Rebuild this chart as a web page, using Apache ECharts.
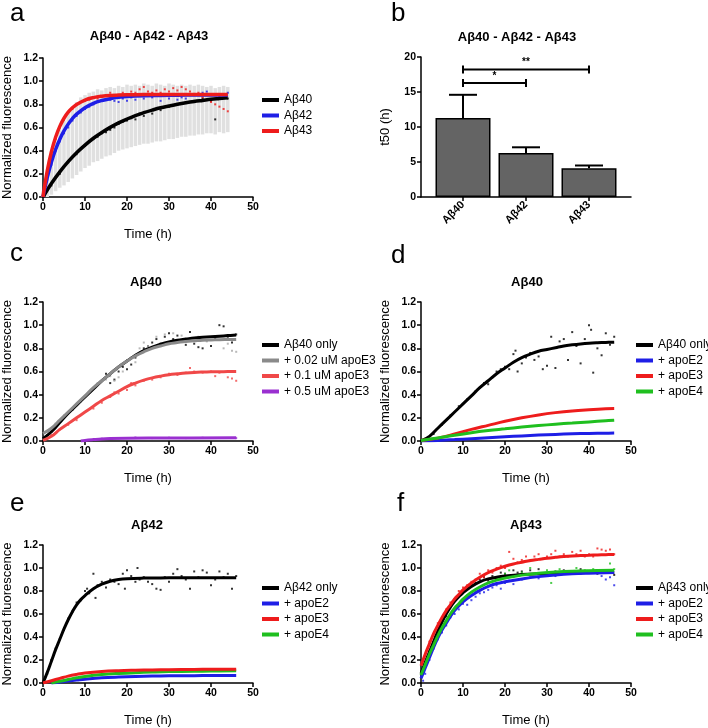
<!DOCTYPE html>
<html>
<head>
<meta charset="utf-8">
<title>Abeta aggregation</title>
<script src="https://cdn.jsdelivr.net/npm/echarts@6/dist/echarts.min.js"></script>
<style>
  html, body { margin: 0; padding: 0; background: #fff; }
  #main { width: 708px; height: 728px; }
</style>
</head>
<body>
<div id="main"></div>
<script>
// ---- data ----
// panel a : fits, points, grey error bars [t, low, high]
var aFit40 = [[0,0],[2,0.116],[4,0.217],[6,0.305],[8,0.382],[10,0.448],[12,0.507],[14,0.557],[16,0.601],[18,0.640],[20,0.673],[22,0.703],[24,0.728],[26,0.750],[28,0.770],[30,0.786],[32,0.801],[34,0.814],[36,0.825],[38,0.834],[40,0.843],[42,0.850],[44,0.857]];
var aFit42 = [[0,0],[1,0.166],[2,0.301],[3,0.41],[4,0.499],[5,0.57],[6,0.629],[7,0.677],[8,0.715],[10,0.771],[12,0.809],[14,0.833],[16,0.849],[18,0.86],[20,0.867],[24,0.874],[28,0.877],[32,0.879],[36,0.88],[40,0.88],[44,0.88]];
var aFit43 = [[0,0],[1,0.224],[2,0.391],[3,0.516],[4,0.61],[5,0.68],[6,0.732],[7,0.77],[8,0.799],[10,0.837],[12,0.858],[14,0.87],[16,0.877],[18,0.88],[20,0.882],[24,0.884],[28,0.885],[32,0.885],[36,0.885],[40,0.885],[44,0.885]];
var aPts40 = [[2,0.1],[4,0.2],[6,0.3],[8,0.37],[10,0.44],[12,0.5],[13,0.52],[14,0.55],[15,0.56],[16,0.58],[17,0.6],[18,0.63],[19,0.65],[20,0.66],[21,0.68],[22,0.67],[23,0.72],[24,0.7],[25,0.74],[26,0.72],[28,0.75],[30,0.78],[32,0.8],[34,0.82],[36,0.83],[38,0.85],[40,0.83],[41,0.67],[42,0.86],[44,0.85]];
var aPts42 = [[1,0.15],[2,0.28],[3,0.4],[4,0.48],[5,0.55],[6,0.6],[7,0.66],[8,0.7],[9,0.73],[10,0.76],[11,0.78],[12,0.8],[13,0.82],[14,0.83],[15,0.84],[16,0.84],[17,0.83],[18,0.82],[19,0.85],[20,0.83],[21,0.86],[22,0.84],[24,0.85],[26,0.86],[28,0.83],[30,0.85],[32,0.84],[33,0.86],[34,0.85],[36,0.88],[38,0.9],[39,0.91],[40,0.89],[42,0.88],[44,0.9]];
var aPts43 = [[1,0.2],[2,0.38],[3,0.5],[4,0.6],[5,0.67],[6,0.73],[7,0.76],[8,0.8],[9,0.82],[10,0.83],[11,0.84],[12,0.86],[13,0.85],[14,0.87],[15,0.88],[16,0.9],[17,0.88],[18,0.87],[19,0.9],[20,0.89],[21,0.91],[22,0.9],[23,0.93],[24,0.95],[25,0.91],[26,0.9],[27,0.92],[28,0.9],[29,0.93],[30,0.91],[31,0.94],[32,0.92],[33,0.95],[34,0.93],[35,0.91],[36,0.89],[37,0.9],[38,0.86],[39,0.84],[40,0.82],[41,0.8],[42,0.78],[43,0.76],[44,0.74]];
var aErr = [[0,0,0.05],[1,0,0.2],[2,0.02,0.35],[3,0.05,0.48],[4,0.08,0.58],[5,0.1,0.66],[6,0.13,0.72],[7,0.16,0.78],[8,0.19,0.82],[9,0.22,0.86],[10,0.25,0.88],[11,0.27,0.9],[12,0.3,0.91],[13,0.31,0.93],[14,0.33,0.92],[15,0.35,0.94],[16,0.36,0.95],[17,0.38,0.94],[18,0.4,0.96],[19,0.41,0.95],[20,0.42,0.97],[21,0.43,0.96],[22,0.44,0.97],[23,0.45,0.96],[24,0.46,0.98],[25,0.46,0.97],[26,0.47,0.96],[27,0.48,0.98],[28,0.48,0.97],[29,0.49,0.96],[30,0.5,0.98],[31,0.5,0.97],[32,0.51,0.96],[33,0.52,0.97],[34,0.52,0.96],[35,0.53,0.97],[36,0.53,0.96],[37,0.54,0.97],[38,0.54,0.96],[39,0.55,0.95],[40,0.55,0.96],[41,0.54,0.94],[42,0.56,0.95],[43,0.55,0.96],[44,0.56,0.95]];

// panel b : t50 bars
var bCats = ['Aβ40', 'Aβ42', 'Aβ43'];
var bT50 = [11.3, 6.3, 4.1];
var bT50Hi = [14.6, 7.1, 4.5];
var bSig = [[0, 2, 18.2], [0, 1, 16.3]];
var bSigText = ['**', '*'];

// panel c : Abeta40 + apoE3 doses
var cFitOnly = [[0,0.02],[2,0.08],[4,0.16],[6,0.24],[8,0.31],[10,0.38],[12,0.45],[14,0.52],[16,0.58],[18,0.64],[20,0.69],[22,0.74],[24,0.78],[26,0.81],[28,0.835],[30,0.855],[32,0.87],[34,0.88],[36,0.89],[38,0.895],[40,0.9],[42,0.905],[44,0.91],[46,0.915]];
var cFit002 = [[0,0.065],[2,0.11],[4,0.18],[6,0.25],[8,0.32],[10,0.39],[12,0.46],[14,0.52],[16,0.58],[18,0.64],[20,0.69],[22,0.735],[24,0.77],[26,0.8],[28,0.82],[30,0.84],[32,0.85],[34,0.86],[36,0.865],[38,0.87],[40,0.872],[42,0.875],[44,0.876],[46,0.877]];
var cFit01 = [[0,0.005],[2,0.04],[4,0.1],[6,0.15],[8,0.2],[10,0.25],[12,0.3],[14,0.35],[16,0.39],[18,0.43],[20,0.47],[22,0.5],[24,0.525],[26,0.545],[28,0.56],[30,0.572],[32,0.58],[34,0.587],[36,0.592],[38,0.595],[40,0.597],[42,0.598],[44,0.599],[46,0.6]];
var cFit05 = [[9,0],[10,0.005],[12,0.012],[14,0.018],[16,0.021],[20,0.024],[30,0.026],[46,0.027]];
var cPtsOnly = [[1,0.05],[2,0.08],[3,0.12],[5,0.2],[7,0.27],[9,0.35],[11,0.42],[13,0.49],[14,0.52],[15,0.58],[16,0.5],[17,0.53],[18,0.6],[19,0.64],[20,0.62],[21,0.66],[22,0.72],[23,0.76],[24,0.8],[25,0.82],[26,0.85],[27,0.88],[28,0.84],[29,0.9],[30,0.93],[31,0.88],[32,0.91],[33,0.86],[34,0.83],[35,0.94],[36,0.84],[37,0.81],[38,0.8],[39,0.87],[40,0.82],[41,0.88],[42,1.0],[43,0.99],[44,0.9],[45,0.85],[46,0.92]];
var cPts002 = [[1,0.08],[3,0.15],[5,0.22],[7,0.28],[9,0.34],[11,0.42],[13,0.5],[15,0.53],[16,0.56],[17,0.52],[18,0.55],[19,0.6],[20,0.7],[21,0.72],[22,0.68],[23,0.8],[24,0.85],[25,0.82],[27,0.9],[29,0.92],[31,0.93],[33,0.91],[35,0.87],[37,0.9],[39,0.86],[41,0.9],[43,0.8],[44,0.84],[45,0.78],[46,0.77]];
var cPts01 = [[2,0.05],[4,0.1],[6,0.14],[8,0.18],[10,0.25],[12,0.28],[14,0.33],[16,0.38],[17,0.42],[18,0.41],[20,0.44],[21,0.5],[22,0.48],[24,0.52],[26,0.53],[28,0.55],[30,0.58],[32,0.57],[34,0.59],[35,0.63],[36,0.6],[38,0.59],[40,0.6],[41,0.56],[42,0.59],[44,0.55],[45,0.54],[46,0.52]];
var cPts05 = [[10,0.005],[14,0.02],[18,0.025],[22,0.03],[26,0.025],[30,0.028],[34,0.025],[38,0.028],[42,0.026],[46,0.025]];

// panel d : Abeta40 + apoE isoforms
var dFitOnly = [[0,0],[2,0.04],[4,0.11],[6,0.18],[8,0.25],[10,0.32],[12,0.39],[14,0.46],[16,0.52],[18,0.58],[20,0.63],[22,0.68],[24,0.72],[26,0.75],[28,0.775],[30,0.79],[32,0.805],[34,0.82],[36,0.83],[38,0.838],[40,0.844],[42,0.848],[44,0.851],[46,0.853]];
var dFitE2 = [[0,0],[4,0.005],[8,0.012],[12,0.02],[16,0.028],[20,0.036],[24,0.044],[28,0.051],[32,0.057],[36,0.062],[40,0.065],[44,0.067],[46,0.068]];
var dFitE3 = [[0,0.005],[4,0.025],[8,0.06],[12,0.1],[16,0.135],[20,0.17],[24,0.2],[28,0.225],[32,0.245],[36,0.26],[40,0.27],[44,0.278],[46,0.28]];
var dFitE4 = [[0,0.005],[4,0.025],[8,0.05],[12,0.072],[16,0.09],[20,0.105],[24,0.12],[28,0.133],[32,0.145],[36,0.155],[40,0.165],[44,0.175],[46,0.18]];
var dPtsOnly = [[1,0.01],[3,0.06],[5,0.14],[7,0.22],[9,0.3],[11,0.36],[13,0.43],[14,0.46],[15,0.5],[16,0.49],[17,0.55],[18,0.6],[19,0.62],[20,0.64],[21,0.62],[22,0.75],[22.5,0.78],[23,0.6],[24,0.67],[25,0.72],[26,0.76],[27,0.7],[28,0.73],[29,0.62],[30,0.65],[31,0.9],[32,0.63],[33,0.86],[34,0.88],[35,0.7],[36,0.94],[37,0.82],[38,0.67],[39,0.88],[40,1.0],[40.5,0.96],[41,0.59],[42,0.8],[43,0.74],[44,0.93],[45,0.83],[46,0.9]];

// panel e : Abeta42 + apoE isoforms
var eFitOnly = [[0,0],[1,0.09],[2,0.19],[3,0.29],[4,0.38],[5,0.47],[6,0.55],[7,0.62],[8,0.68],[9,0.725],[10,0.76],[12,0.82],[14,0.86],[16,0.885],[18,0.9],[20,0.907],[24,0.912],[28,0.914],[32,0.915],[36,0.915],[40,0.915],[46,0.915]];
var eFitE2 = [[2,0],[4,0.008],[6,0.017],[8,0.025],[10,0.033],[14,0.045],[18,0.052],[22,0.057],[26,0.06],[30,0.062],[36,0.064],[40,0.065],[46,0.066]];
var eFitE3 = [[0,0],[2,0.02],[4,0.04],[6,0.06],[8,0.075],[10,0.087],[14,0.1],[18,0.107],[22,0.111],[26,0.114],[30,0.116],[36,0.118],[40,0.119],[46,0.12]];
var eFitE4 = [[2,0],[4,0.015],[6,0.03],[8,0.045],[10,0.057],[14,0.073],[18,0.083],[22,0.09],[26,0.095],[30,0.099],[36,0.102],[40,0.104],[46,0.106]];
var ePtsOnly = [[1,0.08],[2,0.2],[3,0.3],[4,0.38],[5,0.46],[6,0.56],[7,0.62],[8,0.7],[9,0.72],[10,0.8],[10.5,0.82],[11,0.78],[12,0.95],[12.5,0.74],[13,0.85],[14,0.88],[15,0.83],[16,0.9],[17,0.88],[18,0.86],[19,0.95],[19.5,0.82],[20,0.98],[21,0.93],[22,0.88],[22.5,1.0],[23,0.9],[24,0.92],[25,0.88],[26,0.86],[27,0.82],[28,0.81],[29,0.92],[30,0.88],[31,0.95],[32,0.99],[33,0.93],[34,0.9],[35,0.82],[36,0.97],[37,0.92],[38,0.98],[39,0.96],[40,0.85],[41,0.9],[42,0.97],[43,0.92],[44,0.95],[45,0.82],[46,0.93]];

// panel f : Abeta43 + apoE isoforms
var fFitOnly = [[0,0.08],[1,0.18],[2,0.27],[3,0.36],[4,0.45],[5,0.53],[6,0.6],[7,0.66],[8,0.71],[9,0.75],[10,0.785],[12,0.84],[14,0.88],[16,0.905],[18,0.92],[20,0.93],[24,0.943],[28,0.95],[32,0.955],[36,0.958],[40,0.96],[46,0.96]];
var fFitE2 = [[0,0.04],[1,0.13],[2,0.22],[3,0.31],[4,0.39],[5,0.46],[6,0.52],[7,0.58],[8,0.63],[9,0.67],[10,0.705],[12,0.76],[14,0.805],[16,0.84],[18,0.865],[20,0.88],[24,0.905],[28,0.925],[32,0.94],[36,0.95],[40,0.955],[46,0.96]];
var fFitE3 = [[0,0.15],[1,0.25],[2,0.34],[3,0.43],[4,0.5],[5,0.57],[6,0.63],[7,0.68],[8,0.73],[9,0.77],[10,0.81],[12,0.87],[14,0.92],[16,0.96],[18,0.99],[20,1.015],[22,1.035],[24,1.05],[26,1.065],[28,1.075],[30,1.085],[32,1.093],[34,1.1],[36,1.105],[38,1.108],[40,1.111],[42,1.114],[44,1.116],[46,1.117]];
var fFitE4 = [[0,0.07],[1,0.16],[2,0.25],[3,0.33],[4,0.41],[5,0.48],[6,0.54],[7,0.6],[8,0.65],[9,0.69],[10,0.73],[12,0.79],[14,0.835],[16,0.87],[18,0.895],[20,0.912],[24,0.938],[28,0.955],[32,0.965],[36,0.972],[40,0.976],[46,0.98]];
var fPtsOnly = [[1,0.16],[2,0.28],[3,0.35],[4,0.46],[5,0.52],[6,0.58],[7,0.67],[8,0.72],[9,0.76],[10,0.8],[11,0.83],[12,0.85],[13,0.87],[14,0.9],[15,0.92],[16,0.89],[17,0.93],[18,0.91],[19,0.96],[20,0.95],[21,0.93],[22,0.98],[23,0.96],[24,0.97],[25,0.94],[26,0.98],[28,0.99],[30,0.95],[32,0.97],[34,0.98],[36,0.96],[38,0.99],[40,0.97],[42,0.95],[44,0.96],[46,0.94]];
var fPtsE2 = [[0.5,0.02],[1,0.08],[2,0.2],[3,0.3],[4,0.38],[5,0.44],[6,0.5],[7,0.57],[8,0.6],[9,0.64],[10,0.69],[11,0.68],[12,0.72],[13,0.75],[14,0.78],[15,0.79],[16,0.81],[17,0.83],[18,0.85],[19,0.82],[20,0.87],[21,0.89],[22,0.86],[24,0.9],[26,0.92],[28,0.91],[30,0.94],[32,0.93],[34,0.95],[36,0.96],[38,0.95],[40,0.96],[42,0.98],[43,0.93],[44,0.9],[45,0.92],[46,0.85]];
var fPtsE3 = [[1,0.25],[2,0.36],[3,0.42],[4,0.52],[5,0.55],[6,0.64],[7,0.7],[8,0.73],[9,0.8],[10,0.83],[11,0.85],[12,0.88],[13,0.9],[14,0.95],[15,0.92],[16,0.98],[17,0.96],[18,1.0],[19,1.02],[20,1.0],[21,1.14],[22,1.08],[23,1.05],[24,1.07],[25,1.1],[26,1.06],[27,1.1],[28,1.12],[29,1.08],[30,1.1],[31,1.12],[32,1.15],[33,1.1],[34,1.12],[35,1.1],[36,1.14],[37,1.12],[38,1.15],[39,1.1],[40,1.12],[41,1.1],[42,1.17],[43,1.16],[44,1.15],[45,1.16],[46,1.12]];
var fPtsE4 = [[1,0.14],[3,0.33],[5,0.47],[7,0.58],[9,0.68],[11,0.76],[13,0.8],[15,0.85],[17,0.88],[19,0.9],[20,0.95],[21,0.98],[22,0.92],[24,0.96],[26,1.0],[28,0.95],[30,0.98],[31,0.87],[33,0.99],[35,0.96],[37,1.0],[39,0.98],[41,0.99],[43,0.97],[45,1.04],[46,0.99]];

// ---- styling ----
var FONT = '"Liberation Sans", Arial, sans-serif';
var BLACK = '#000000', BLUE = '#1e1ee6', RED = '#ee1c1c', GREEN = '#1fbf1f',
    GREY = '#8a8a8a', LRED = '#f04848', PURPLE = '#9a30d0';

var chart = echarts.init(document.getElementById('main'), null, { renderer: 'canvas' });

var axisLineStyle = { show: true, onZero: false, lineStyle: { color: '#000', width: 1.5 } };
var tickStyle = { show: true, length: 4, lineStyle: { color: '#000', width: 1.5 } };
var tickLabel = { fontSize: 10.5, fontWeight: 'bold', color: '#000', fontFamily: FONT };

function timeAxis(g) {
  return {
    type: 'value', gridIndex: g, min: 0, max: 50, interval: 10,
    name: 'Time (h)', nameLocation: 'middle', nameGap: 31,
    nameTextStyle: { fontSize: 13, color: '#000', fontFamily: FONT },
    axisLine: axisLineStyle, axisTick: tickStyle,
    axisLabel: Object.assign({ margin: 5 }, tickLabel),
    splitLine: { show: false }
  };
}
function fluoAxis(g) {
  return {
    type: 'value', gridIndex: g, min: 0, max: 1.2, interval: 0.2,
    name: 'Normalized fluorescence', nameLocation: 'middle', nameGap: 29,
    nameTextStyle: { fontSize: 13, color: '#000', fontFamily: FONT },
    axisLine: axisLineStyle, axisTick: tickStyle,
    axisLabel: Object.assign({ margin: 5, formatter: function (v) { return v.toFixed(1); } }, tickLabel),
    splitLine: { show: false }
  };
}
function fit(ax, name, data, color, w) {
  return {
    type: 'line', name: name, xAxisIndex: ax, yAxisIndex: ax, data: data,
    smooth: 0.4, symbol: 'none', showSymbol: false, z: 4,
    lineStyle: { color: color, width: w || 3 }, itemStyle: { color: color }
  };
}
function dots(ax, data, color) {
  return {
    type: 'scatter', xAxisIndex: ax, yAxisIndex: ax, data: data,
    symbol: 'rect', symbolSize: 2, itemStyle: { color: color }, z: 3, silent: true
  };
}
function legend(x, y, names) {
  return {
    orient: 'vertical', left: x, top: y, data: names, icon: 'rect',
    itemWidth: 17, itemHeight: 4, itemGap: 3.5, selectedMode: false,
    textStyle: { fontSize: 12, lineHeight: 12, color: '#000', fontFamily: FONT }
  };
}
// text centred vertically on y
function txt(x, y, s, size, bold, align) {
  return {
    type: 'text', x: x, y: y, silent: true,
    style: {
      text: s, fill: '#000', textAlign: align || 'center', textVerticalAlign: 'middle',
      font: (bold ? 'bold ' : '') + size + 'px ' + FONT
    }
  };
}

// grey error bars of panel a
function errRender(params, api) {
  var lo = api.coord([api.value(0), api.value(1)]);
  var hi = api.coord([api.value(0), api.value(2)]);
  return { type: 'line', shape: { x1: lo[0], y1: lo[1], x2: hi[0], y2: hi[1] },
           style: { stroke: '#e0e0e0', lineWidth: 3.5 } };
}
// error bars on bars of panel b
function barErrRender(params, api) {
  var top = api.coord([api.value(0), api.value(1)]);
  var hi = api.coord([api.value(0), api.value(2)]);
  return { type: 'group', children: [
    { type: 'line', shape: { x1: top[0], y1: top[1], x2: hi[0], y2: hi[1] }, style: { stroke: '#000', lineWidth: 2 } },
    { type: 'line', shape: { x1: hi[0] - 14, y1: hi[1], x2: hi[0] + 14, y2: hi[1] }, style: { stroke: '#000', lineWidth: 2 } }
  ] };
}
// significance brackets of panel b
function sigRender(params, api) {
  var p1 = api.coord([api.value(0), api.value(2)]);
  var p2 = api.coord([api.value(1), api.value(2)]);
  var st = { stroke: '#000', lineWidth: 2 };
  return { type: 'group', children: [
    { type: 'line', shape: { x1: p1[0], y1: p1[1], x2: p2[0], y2: p2[1] }, style: st },
    { type: 'line', shape: { x1: p1[0], y1: p1[1] - 4, x2: p1[0], y2: p1[1] + 4 }, style: st },
    { type: 'line', shape: { x1: p2[0], y1: p2[1] - 4, x2: p2[0], y2: p2[1] + 4 }, style: st },
    { type: 'text', style: { text: bSigText[params.dataIndex], x: (p1[0] + p2[0]) / 2, y: p1[1] - 2,
      textAlign: 'center', textVerticalAlign: 'bottom', font: 'bold 10px ' + FONT, fill: '#000' } }
  ] };
}

var option = {
  animation: false,
  backgroundColor: '#fff',
  grid: [
    { left: 43, top: 58, width: 210, height: 139 },      // a
    { left: 421, top: 57, width: 210, height: 140 },     // b frame
    { left: 431.5, top: 57, width: 189, height: 140 },   // b bars
    { left: 43, top: 302, width: 210, height: 139 },     // c
    { left: 421, top: 302, width: 210, height: 139 },    // d
    { left: 43, top: 545, width: 210, height: 139 },     // e
    { left: 421, top: 545, width: 210, height: 139 }     // f
  ],
  xAxis: [
    timeAxis(0),
    { type: 'value', gridIndex: 1, min: 0, max: 1, axisLine: axisLineStyle,
      axisTick: { show: false }, axisLabel: { show: false }, splitLine: { show: false } },
    { type: 'category', gridIndex: 2, data: bCats, axisLine: { show: false },
      axisTick: { show: true, alignWithLabel: true, length: 4, lineStyle: { color: '#000', width: 1.5 } },
      axisLabel: { rotate: 45, margin: 6, fontSize: 11, fontWeight: 'bold', color: '#000', fontFamily: FONT } },
    timeAxis(3), timeAxis(4), timeAxis(5), timeAxis(6)
  ],
  yAxis: [
    fluoAxis(0),
    { type: 'value', gridIndex: 1, min: 0, max: 20, interval: 5,
      name: 't50 (h)', nameLocation: 'middle', nameGap: 29,
      nameTextStyle: { fontSize: 13, color: '#000', fontFamily: FONT },
      axisLine: axisLineStyle, axisTick: tickStyle,
      axisLabel: Object.assign({ margin: 5 }, tickLabel), splitLine: { show: false } },
    { type: 'value', gridIndex: 2, min: 0, max: 20, show: false },
    fluoAxis(3), fluoAxis(4), fluoAxis(5), fluoAxis(6)
  ],
  legend: [
    legend(257, 89, ['Aβ40', 'Aβ42', 'Aβ43']),
    legend(257, 334, ['Aβ40 only', '+ 0.02 uM apoE3', '+ 0.1 uM apoE3', '+ 0.5 uM apoE3']),
    legend(631, 334, ['Aβ40 only', '+ apoE2', '+ apoE3', '+ apoE4']),
    legend(257, 577, ['Aβ42 only', '+ apoE2', '+ apoE3', '+ apoE4']),
    legend(631, 577, ['Aβ43 only', '+ apoE2', '+ apoE3', '+ apoE4'])
  ],
  graphic: [
    txt(10, 14, 'a', 26, false, 'left'), txt(391, 14, 'b', 26, false, 'left'),
    txt(10, 254, 'c', 26, false, 'left'), txt(391, 256, 'd', 26, false, 'left'),
    txt(10, 504, 'e', 26, false, 'left'), txt(397, 504, 'f', 26, false, 'left'),
    txt(149, 36.5, 'Aβ40 - Aβ42 - Aβ43', 13, true), txt(517, 37.5, 'Aβ40 - Aβ42 - Aβ43', 13, true),
    txt(146, 282, 'Aβ40', 13, true), txt(527, 282, 'Aβ40', 13, true),
    txt(147, 525, 'Aβ42', 13, true), txt(526, 525, 'Aβ43', 13, true)
  ],
  series: [
    // a
    { type: 'custom', xAxisIndex: 0, yAxisIndex: 0, data: aErr, renderItem: errRender,
      encode: { x: 0, y: [1, 2] }, z: 1, silent: true },
    dots(0, aPts40, BLACK), dots(0, aPts42, BLUE), dots(0, aPts43, RED),
    fit(0, 'Aβ40', aFit40, BLACK, 3.5), fit(0, 'Aβ42', aFit42, BLUE, 3.5), fit(0, 'Aβ43', aFit43, RED, 3.5),
    // b
    { type: 'bar', xAxisIndex: 2, yAxisIndex: 2, data: bT50, barWidth: 55, z: 2,
      itemStyle: { color: '#646464', borderColor: '#000', borderWidth: 1.5 } },
    { type: 'custom', xAxisIndex: 2, yAxisIndex: 2, renderItem: barErrRender, z: 3,
      data: bT50.map(function (v, i) { return [i, v, bT50Hi[i]]; }) },
    { type: 'custom', xAxisIndex: 2, yAxisIndex: 2, renderItem: sigRender, data: bSig, z: 3 },
    // c
    dots(3, cPtsOnly, BLACK), dots(3, cPts002, '#a8a8a8'), dots(3, cPts01, LRED), dots(3, cPts05, PURPLE),
    fit(3, 'Aβ40 only', cFitOnly, BLACK), fit(3, '+ 0.02 uM apoE3', cFit002, GREY),
    fit(3, '+ 0.1 uM apoE3', cFit01, LRED), fit(3, '+ 0.5 uM apoE3', cFit05, PURPLE),
    // d
    dots(4, dPtsOnly, BLACK),
    fit(4, 'Aβ40 only', dFitOnly, BLACK), fit(4, '+ apoE2', dFitE2, BLUE),
    fit(4, '+ apoE3', dFitE3, RED), fit(4, '+ apoE4', dFitE4, GREEN),
    // e
    dots(5, ePtsOnly, BLACK),
    fit(5, 'Aβ42 only', eFitOnly, BLACK), fit(5, '+ apoE2', eFitE2, BLUE),
    fit(5, '+ apoE4', eFitE4, GREEN), fit(5, '+ apoE3', eFitE3, RED),
    // f
    dots(6, fPtsOnly, BLACK), dots(6, fPtsE2, BLUE), dots(6, fPtsE3, RED), dots(6, fPtsE4, GREEN),
    fit(6, 'Aβ43 only', fFitOnly, BLACK), fit(6, '+ apoE2', fFitE2, BLUE),
    fit(6, '+ apoE3', fFitE3, RED), fit(6, '+ apoE4', fFitE4, GREEN)
  ]
};

chart.setOption(option);
</script>
</body>
</html>
